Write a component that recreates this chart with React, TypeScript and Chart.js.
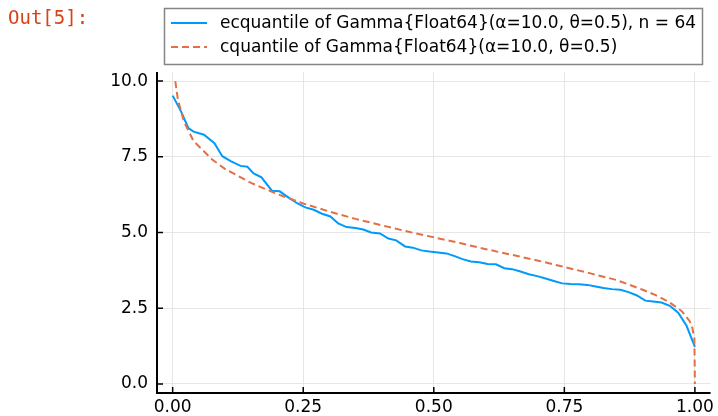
import React, { useEffect, useRef } from "react";
import { Chart, registerables } from "chart.js";
Chart.register(...registerables);

const ecqX = [
  0.0, 0.016, 0.03, 0.04, 0.06, 0.08, 0.095, 0.112, 0.13, 0.143, 0.155, 0.17, 0.19, 0.205,
  0.222, 0.24, 0.254, 0.27, 0.286, 0.302, 0.317, 0.333, 0.35, 0.365, 0.38, 0.397, 0.413,
  0.428, 0.445, 0.46, 0.476, 0.492, 0.508, 0.524, 0.54, 0.555, 0.571, 0.587, 0.603, 0.619,
  0.635, 0.65, 0.666, 0.682, 0.698, 0.714, 0.73, 0.746, 0.762, 0.778, 0.794, 0.81, 0.825,
  0.841, 0.857, 0.873, 0.889, 0.905, 0.92, 0.936, 0.952, 0.968, 0.984, 1.0,
];
const ecqY = [
  9.52, 9.0, 8.45, 8.33, 8.23, 7.95, 7.52, 7.35, 7.2, 7.17, 6.95, 6.82, 6.38, 6.36,
  6.15, 5.95, 5.83, 5.75, 5.62, 5.53, 5.3, 5.18, 5.15, 5.1, 5.0, 4.97, 4.8,
  4.74, 4.54, 4.5, 4.41, 4.37, 4.34, 4.31, 4.22, 4.12, 4.04, 4.02, 3.96, 3.95,
  3.82, 3.79, 3.71, 3.62, 3.56, 3.48, 3.4, 3.32, 3.3, 3.29, 3.27, 3.22, 3.17,
  3.13, 3.11, 3.03, 2.92, 2.75, 2.72, 2.69, 2.58, 2.35, 1.92, 1.22,
];

// Theoretical complementary quantile of Gamma(10, 0.5)
const cqX = [
  0.005, 0.01, 0.02, 0.025, 0.04, 0.05, 0.075, 0.1, 0.15, 0.2, 0.25, 0.3, 0.35, 0.4, 0.45,
  0.5, 0.55, 0.6, 0.65, 0.7, 0.75, 0.8, 0.85, 0.9, 0.925, 0.95, 0.975, 0.99, 0.995, 0.999, 1.0,
];
const cqY = [
  10.0, 9.39, 8.76, 8.54, 8.02, 7.85, 7.42, 7.1, 6.64, 6.27, 5.96, 5.69, 5.45, 5.24, 5.03,
  4.84, 4.65, 4.45, 4.26, 4.07, 3.86, 3.65, 3.43, 3.11, 2.93, 2.71, 2.4, 2.07, 1.86, 1.5, 0.0,
];

const xTicks = [0, 0.25, 0.5, 0.75, 1.0];
const xTickLabels = ["0.00", "0.25", "0.50", "0.75", "1.00"];
const yTicks = [0, 2.5, 5, 7.5, 10];
const yTickLabels = ["0.0", "2.5", "5.0", "7.5", "10.0"];

const legendLabels = [
  "ecquantile of Gamma{Float64}(α=10.0, θ=0.5), n = 64",
  "cquantile of Gamma{Float64}(α=10.0, θ=0.5)",
];
const promptText = "Out[5]:";

const BLUE = "#009AFA";
const ORANGE = "#E36F47";
const FONT = "'DejaVu Sans', sans-serif";

const axesPlugin = {
  id: "juliaAxes",
  afterDraw(chart: any) {
    const { ctx, chartArea: a, scales } = chart;
    const x = scales.x;
    const y = scales.y;
    ctx.save();
    ctx.strokeStyle = "#000";
    ctx.lineWidth = 2;
    ctx.beginPath();
    ctx.moveTo(a.left, a.top);
    ctx.lineTo(a.left, a.bottom);
    ctx.lineTo(a.right, a.bottom);
    ctx.stroke();
    ctx.lineWidth = 1.5;
    ctx.beginPath();
    xTicks.forEach((v) => {
      const px = x.getPixelForValue(v);
      ctx.moveTo(px, a.bottom);
      ctx.lineTo(px, a.bottom - 6);
    });
    yTicks.forEach((v) => {
      const py = y.getPixelForValue(v);
      ctx.moveTo(a.left, py);
      ctx.lineTo(a.left + 6, py);
    });
    ctx.stroke();
    ctx.restore();
  },
};

const legendPlugin = {
  id: "juliaLegend",
  afterDraw(chart: any) {
    const { ctx } = chart;
    ctx.save();
    ctx.fillStyle = "#fff";
    ctx.fillRect(164.5, 8.5, 538, 56);
    ctx.strokeStyle = "#858585";
    ctx.lineWidth = 1.5;
    ctx.strokeRect(164.5, 8.5, 538, 56);

    ctx.lineWidth = 2;
    ctx.strokeStyle = BLUE;
    ctx.setLineDash([]);
    ctx.beginPath();
    ctx.moveTo(171, 23);
    ctx.lineTo(207, 23);
    ctx.stroke();

    ctx.strokeStyle = ORANGE;
    ctx.setLineDash([7, 4]);
    ctx.beginPath();
    ctx.moveTo(171, 47);
    ctx.lineTo(207, 47);
    ctx.stroke();
    ctx.setLineDash([]);

    ctx.fillStyle = "#000";
    ctx.font = `17px ${FONT}`;
    ctx.textBaseline = "alphabetic";
    ctx.textAlign = "left";
    ctx.fillText(legendLabels[0], 220, 28);
    ctx.fillText(legendLabels[1], 220, 52);
    ctx.restore();
  },
};

export default function App() {
  const canvasRef = useRef<HTMLCanvasElement | null>(null);

  useEffect(() => {
    document.body.style.margin = "0";
    const canvas = canvasRef.current;
    if (!canvas) return;
    const chart = new Chart(canvas, {
      type: "line",
      data: {
        datasets: [
          {
            label: legendLabels[0],
            data: ecqX.map((x, i) => ({ x, y: ecqY[i] })),
            borderColor: BLUE,
            backgroundColor: BLUE,
            borderWidth: 2,
            pointRadius: 0,
            tension: 0,
            fill: false,
            order: 2,
          },
          {
            label: legendLabels[1],
            data: cqX.map((x, i) => ({ x, y: cqY[i] })),
            borderColor: ORANGE,
            backgroundColor: ORANGE,
            borderWidth: 2,
            borderDash: [7, 4],
            pointRadius: 0,
            tension: 0,
            fill: false,
            order: 1,
          },
        ],
      },
      options: {
        responsive: false,
        animation: false,
        devicePixelRatio: 1,
        layout: { padding: { top: 72, right: 6, left: 0, bottom: 0 } },
        plugins: {
          legend: { display: false },
          tooltip: { enabled: false },
        },
        scales: {
          x: {
            type: "linear",
            min: -0.03,
            max: 1.03,
            afterBuildTicks: (axis: any) => {
              axis.ticks = xTicks.map((v) => ({ value: v }));
            },
            afterFit: (s: any) => {
              s.height = 23;
            },
            grid: { color: "#e6e6e6", lineWidth: 1, drawTicks: false },
            border: { display: false },
            ticks: {
              autoSkip: false,
              maxRotation: 0,
              padding: 4,
              color: "#000",
              font: { family: FONT, size: 17 },
              callback: (v: any) => {
                const i = xTicks.indexOf(Number(v));
                return i >= 0 ? xTickLabels[i] : "";
              },
            },
          },
          y: {
            type: "linear",
            min: -0.3,
            max: 10.3,
            afterBuildTicks: (axis: any) => {
              axis.ticks = yTicks.map((v) => ({ value: v }));
            },
            afterFit: (s: any) => {
              s.width = 157;
            },
            grid: { color: "#e6e6e6", lineWidth: 1, drawTicks: false },
            border: { display: false },
            ticks: {
              autoSkip: false,
              padding: 9,
              color: "#000",
              font: { family: FONT, size: 17 },
              callback: (v: any) => {
                const i = yTicks.indexOf(Number(v));
                return i >= 0 ? yTickLabels[i] : "";
              },
            },
          },
        },
      },
      plugins: [axesPlugin, legendPlugin],
    } as any);
    return () => chart.destroy();
  }, []);

  return (
    <div style={{ position: "fixed", left: 0, top: 0, width: 718, height: 416, background: "#fff" }}>
      <canvas ref={canvasRef} width={718} height={416} style={{ position: "absolute", left: 0, top: 0, width: 718, height: 416 }} />
      <div
        style={{
          position: "absolute",
          left: 8,
          top: 8,
          fontFamily: "'DejaVu Sans Mono', monospace",
          fontSize: 19,
          lineHeight: "19px",
          color: "#D84315",
          whiteSpace: "pre",
        }}
      >
        {promptText}
      </div>
    </div>
  );
}
